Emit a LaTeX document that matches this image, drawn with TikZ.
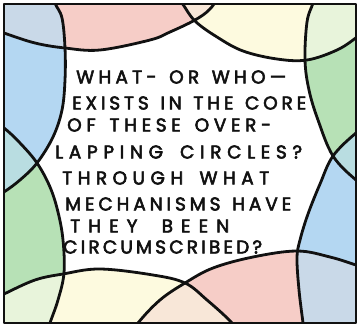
\documentclass[tikz,border=0pt]{standalone}
\usepackage{fontspec}
\newfontfamily\hand{Poppins}[FakeBold=3]
\definecolor{cpink}{HTML}{F6CDC7}
\definecolor{cyel}{HTML}{FDFADF}
\definecolor{cpeach}{HTML}{F8E7D8}
\definecolor{cpgreen}{HTML}{E8F4DB}
\definecolor{cgreen}{HTML}{B7E1B6}
\definecolor{cteal}{HTML}{B9DDE1}
\definecolor{cblue}{HTML}{B4D7F2}
\definecolor{cbgray}{HTML}{C9D9E8}
\definecolor{cink}{HTML}{111111}
\ExplSyntaxOn
\NewDocumentCommand\spreadline{mm}
 {
  \hbox_to_wd:nn {#1}
   {
    \bool_set_true:N \l_tmpa_bool
    \tl_map_inline:nn {#2}
     {
      \bool_if:NF \l_tmpa_bool { \hfill }
      \bool_set_false:N \l_tmpa_bool
      \str_if_eq:nnTF {##1} {|} { \hfill } { ##1 }
     }
   }
 }
\ExplSyntaxOff
\def\CurA{plot[smooth,tension=0.6] coordinates {(-12,27) (4,33) (35,43) (65,48) (100,50) (150,40) (170,32) (195,20) (210,9) (222,-8)}}
\def\RegA{\CurA -- (222,-20) -- (-12,-20) -- cycle}
\def\CurB{plot[smooth,tension=0.6] coordinates {(172,-10) (182,3) (195,21) (217,37) (243,51) (277,59) (307,60) (337,50) (357,37) (372,24)}}
\def\RegB{\CurB -- (372,-20) -- (172,-20) -- cycle}
\def\CurH{plot[smooth,tension=0.6] coordinates {(316,-10) (313,3) (307,22) (305,60) (309,90) (318,120) (333,156) (356,180) (372,190)}}
\def\RegH{\CurH -- (372,-20) -- (316,-20) -- cycle}
\def\CurG{plot[smooth,tension=0.6] coordinates {(372,123) (356,133) (333,156) (320,184) (308,214) (300,240) (297,258) (299,290) (303,323) (305,340)}}
\def\RegG{\CurG -- (372,340) -- cycle}
\def\CurF{plot[smooth,tension=0.6] coordinates {(126,342) (138,323) (160,300) (185,283) (213,268) (253,257) (297,251) (330,257) (356,265) (372,270)}}
\def\RegF{\CurF -- (372,342) -- cycle}
\def\CurE{plot[smooth,tension=0.6] coordinates {(-12,302) (4,294) (35,280) (63,274) (100,269) (153,275) (185,283) (207,300) (232,323) (243,340)}}
\def\RegE{\CurE -- (-12,340) -- cycle}
\def\CurD{plot[smooth,tension=0.6] coordinates {(-12,118) (4,128) (20,143) (37,163) (50,187) (58,212) (63,240) (64,273) (58,300) (50,323) (45,340)}}
\def\RegD{\CurD -- (-12,340) -- cycle}
\def\CurC{plot[smooth,tension=0.6] coordinates {(52,-12) (55,3) (62,18) (65,48) (65,80) (62,110) (53,137) (37,163) (20,180) (4,192) (-12,202)}}
\def\RegC{\CurC -- (-12,-12) -- cycle}
\begin{document}
\begin{tikzpicture}[x=1pt,y=-1pt,
  ink/.style={line width=2.8pt, line cap=round, line join=round, draw=cink},
  lbl/.style={anchor=west, inner sep=0pt, text=cink, font=\hand\fontsize{18.5}{18.5}\selectfont}]
\useasboundingbox (0,0) rectangle (359,327);
\fill[white] (0,0) rectangle (359,327);
\begin{scope}
  \clip (4,4) rectangle (356,323);
  \fill[cpink] \RegA;
  \fill[cyel] \RegB;
  \fill[cgreen] \RegH;
  \fill[cblue] \RegG;
  \fill[cpink] \RegF;
  \fill[cyel] \RegE;
  \fill[cgreen] \RegD;
  \fill[cblue] \RegC;
  \begin{scope}\clip \RegA; \fill[cbgray] \RegC; \end{scope}
  \begin{scope}\clip \RegA; \fill[cpeach] \RegB; \end{scope}
  \begin{scope}\clip \RegB; \fill[cpgreen] \RegH; \end{scope}
  \begin{scope}\clip \RegH; \fill[cteal] \RegG; \end{scope}
  \begin{scope}\clip \RegG; \fill[cbgray] \RegF; \end{scope}
  \begin{scope}\clip \RegF; \fill[cpeach] \RegE; \end{scope}
  \begin{scope}\clip \RegE; \fill[cpgreen] \RegD; \end{scope}
  \begin{scope}\clip \RegD; \fill[cteal] \RegC; \end{scope}
  \draw[ink] \CurA;
  \draw[ink] \CurB;
  \draw[ink] \CurH;
  \draw[ink] \CurG;
  \draw[ink] \CurF;
  \draw[ink] \CurE;
  \draw[ink] \CurD;
  \draw[ink] \CurC;
\end{scope}
\draw[ink] (4,4) rectangle (356,323);
\node[lbl] (l1) at (76,77) {\spreadline{210pt}{WHAT-|OR|WHO—}};
\node[lbl] (l2) at (72,103) {\spreadline{234pt}{EXISTS|IN|THE|CORE}};
\node[lbl] (l3) at (67,125) {\spreadline{204pt}{OF|THESE|OVER-}};
\node[lbl] (l4) at (55,152) {\spreadline{247pt}{LAPPING|CIRCLES?}};
\node[lbl] (l5) at (62,178) {\spreadline{207pt}{THROUGH|WHAT}};
\node[lbl] (l6) at (65,204) {\spreadline{226pt}{MECHANISMS|HAVE}};
\node[lbl] (l7) at (70,226) {\spreadline{159pt}{THEY|BEEN}};
\node[lbl] (l8) at (63,247) {\spreadline{199pt}{CIRCUMSCRIBED?}};
\end{tikzpicture}
\end{document}
